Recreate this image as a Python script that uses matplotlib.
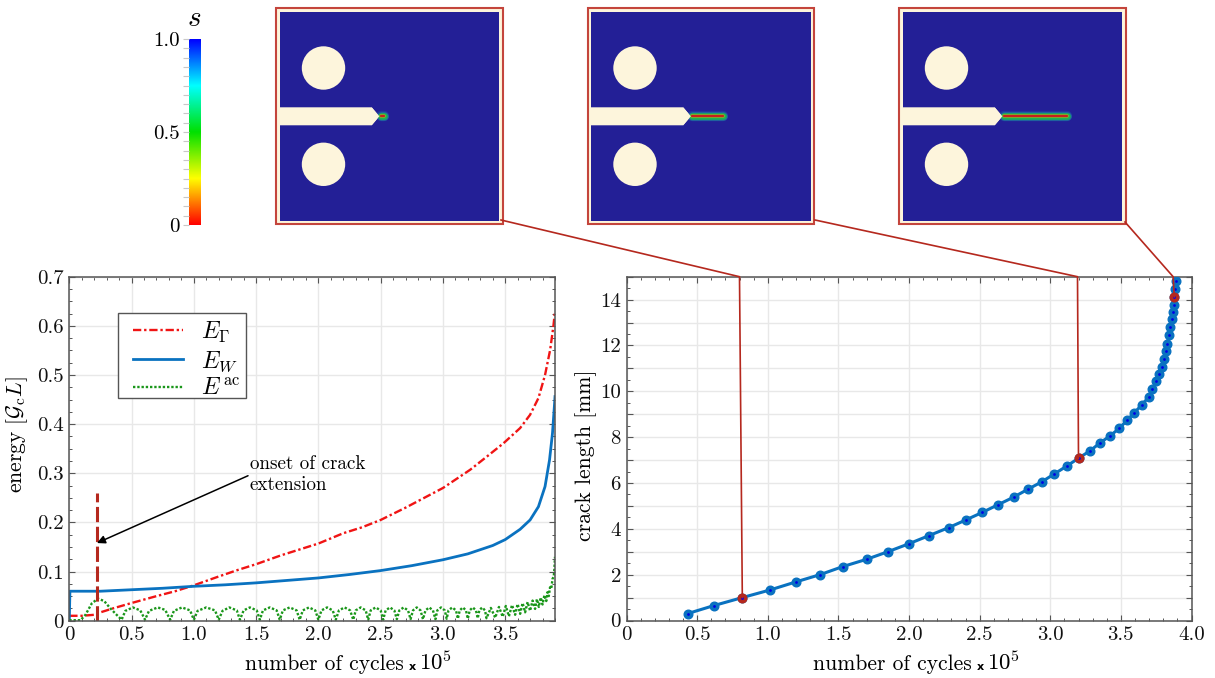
import numpy as np
import matplotlib
matplotlib.use("Agg")
import matplotlib.pyplot as plt
from matplotlib.colors import LinearSegmentedColormap
from matplotlib.lines import Line2D
from matplotlib.patches import Circle, Polygon, Rectangle
from matplotlib.ticker import MultipleLocator, FixedLocator, FixedFormatter
from matplotlib.transforms import IdentityTransform

plt.rcParams['font.family'] = ['cmr10', 'DejaVu Serif']
plt.rcParams['mathtext.fontset'] = 'cm'
plt.rcParams['axes.formatter.use_mathtext'] = True
plt.rcParams['axes.unicode_minus'] = False

W, H = 1215, 678

# energy curves, x in 1e5 cycles
gamma_x = [0, 0.1, 0.2, 0.25, 0.35, 0.5, 0.7, 0.85, 1.0, 1.2, 1.35, 1.5, 1.7, 1.85, 2.0, 2.2, 2.35, 2.5,
           2.7, 2.85, 3.0, 3.218, 3.353, 3.486, 3.62, 3.70, 3.767, 3.82, 3.861, 3.887, 3.9]
gamma_y = [0.01, 0.01, 0.012, 0.017, 0.025, 0.036, 0.05, 0.06, 0.072, 0.09, 0.103, 0.115, 0.133, 0.145, 0.157,
           0.178, 0.19, 0.205, 0.23, 0.25, 0.27, 0.307, 0.334, 0.361, 0.392, 0.419, 0.453, 0.50, 0.551, 0.599, 0.63]
elastic_x = [0, 0.005, 0.25, 0.5, 0.75, 1.0, 1.25, 1.5, 1.75, 2.0, 2.25, 2.5, 2.75, 3.0, 3.2, 3.4, 3.5, 3.62, 3.70,
             3.767, 3.82, 3.856, 3.88, 3.896, 3.9]
elastic_y = [0, 0.06, 0.06, 0.063, 0.066, 0.07, 0.073, 0.077, 0.082, 0.087, 0.094, 0.102, 0.112, 0.124, 0.136,
             0.153, 0.165, 0.186, 0.205, 0.232, 0.273, 0.327, 0.382, 0.44, 0.456]
acoustic_x = [0, 0.09, 0.13, 0.18, 0.23, 0.28, 0.33, 0.38, 0.42, 0.45, 0.51, 0.57, 0.608, 0.64, 0.71, 0.77, 0.81,
              0.84, 0.905, 0.97, 1.0, 1.03, 1.10, 1.17, 1.2, 1.23, 1.285, 1.345, 1.37, 1.40, 1.45, 1.505, 1.53,
              1.555, 1.61, 1.665, 1.69, 1.715, 1.77, 1.825, 1.85, 1.875, 1.925, 1.975, 2.0, 2.025, 2.07, 2.115, 2.14,
              2.165, 2.21, 2.255, 2.28, 2.30, 2.34, 2.38, 2.40, 2.42, 2.46, 2.50, 2.52, 2.54, 2.575, 2.61, 2.63,
              2.65, 2.685, 2.72, 2.74, 2.76, 2.79, 2.82, 2.84, 2.86, 2.89, 2.92, 2.94, 2.955, 2.985, 3.015, 3.03,
              3.045, 3.075, 3.105, 3.12, 3.135, 3.16, 3.185, 3.20, 3.215, 3.24, 3.265, 3.28, 3.292, 3.315, 3.338, 3.35,
              3.385, 3.42, 3.45, 3.48, 3.505, 3.53, 3.555, 3.58, 3.60, 3.62, 3.64, 3.66, 3.68, 3.70, 3.72, 3.74,
              3.755, 3.77, 3.785, 3.80, 3.815, 3.83, 3.84, 3.85, 3.86, 3.87, 3.88, 3.89, 3.895, 3.9]
acoustic_y = [0.001, 0.001, 0.012, 0.035, 0.045, 0.04, 0.025, 0.012, 0.002, 0.02, 0.027, 0.021, 0.002, 0.02, 0.027, 0.022, 0.002,
              0.02, 0.027, 0.021, 0.002, 0.02, 0.027, 0.021, 0.002, 0.02, 0.027, 0.021, 0.002, 0.021, 0.027, 0.021, 0.002,
              0.021, 0.027, 0.021, 0.002, 0.021, 0.027, 0.021, 0.002, 0.021, 0.027, 0.021, 0.002, 0.021, 0.027, 0.021, 0.002,
              0.021, 0.027, 0.021, 0.002, 0.021, 0.027, 0.021, 0.002, 0.021, 0.027, 0.021, 0.002, 0.021, 0.027, 0.021, 0.003,
              0.021, 0.027, 0.021, 0.003, 0.021, 0.027, 0.021, 0.003, 0.021, 0.027, 0.021, 0.003, 0.021, 0.027, 0.021, 0.004,
              0.021, 0.027, 0.021, 0.004, 0.021, 0.027, 0.021, 0.004, 0.021, 0.027, 0.021, 0.005, 0.021, 0.027, 0.021, 0.005,
              0.026, 0.006, 0.028, 0.008, 0.03, 0.009, 0.032, 0.012, 0.034, 0.014, 0.036, 0.017, 0.038, 0.02, 0.041, 0.024,
              0.044, 0.028, 0.047, 0.033, 0.052, 0.04, 0.058, 0.05, 0.068, 0.065, 0.085, 0.09, 0.105, 0.13]

onset_x = 0.222
onset_top = 0.26

# crack growth, x in 1e5 cycles, y in mm
crack_x = [0.432, 0.618, 0.82, 1.015, 1.197, 1.37, 1.53, 1.70, 1.85, 2.0, 2.14, 2.28, 2.40, 2.52, 2.63, 2.74, 2.84,
           2.94, 3.03, 3.12, 3.20, 3.283, 3.353, 3.42, 3.49, 3.544, 3.596, 3.65, 3.697, 3.723, 3.751, 3.77, 3.788,
           3.803, 3.817, 3.826, 3.843, 3.85, 3.864, 3.869, 3.873, 3.878, 3.885, 3.892]
crack_y = [0.3, 0.65, 1.0, 1.33, 1.68, 2.0, 2.35, 2.67, 3.0, 3.35, 3.7, 4.05, 4.38, 4.72, 5.05, 5.38, 5.72,
           6.05, 6.4, 6.75, 7.08, 7.41, 7.75, 8.04, 8.39, 8.74, 9.07, 9.42, 9.75, 10.1, 10.44, 10.74, 11.08,
           11.43, 11.75, 12.07, 12.44, 12.79, 13.14, 13.45, 13.77, 14.12, 14.45, 14.81]
snapshot_idx = [2, 20, 41]

# crack tip in the three snapshots, px from panel left edge
snapshot_tip = [111, 138, 171]
snapshot_left = [276, 587.5, 899]

RED = '#b5281e'
SPINE = '#555555'
GRID = '#e8e8e8'
TICK_SIZE = 15
LABEL_SIZE = 15.5


def px_axes(fig, left, top, right, bottom):
    return fig.add_axes([left / W, 1 - bottom / H, (right - left) / W, (bottom - top) / H])


def style_axes(ax):
    for s in ax.spines.values():
        s.set_color(SPINE)
        s.set_linewidth(1.1)
    ax.tick_params(which='both', direction='in', top=True, right=True, color=SPINE)
    ax.tick_params(which='major', length=4, width=0.8, labelsize=TICK_SIZE, pad=4, labelcolor='#111111')
    ax.tick_params(which='minor', length=2.5, width=0.7)
    ax.grid(True, which='major', color=GRID, lw=1.0)
    ax.set_axisbelow(True)
    ax.xaxis.set_minor_locator(MultipleLocator(0.1))
    ax.xaxis.set_major_locator(FixedLocator([0, 0.5, 1, 1.5, 2, 2.5, 3, 3.5, 4]))
    ax.xaxis.set_major_formatter(FixedFormatter(['0', '0.5', '1.0', '1.5', '2.0', '2.5', '3.0', '3.5', '4.0']))


def cycles_label(fig, ax, left):
    # label text starts at px left, small x and power of ten follow it
    ax.set_xlabel('number of cycles', fontsize=LABEL_SIZE, ha='left', va='baseline')
    box = ax.get_position()
    ax.xaxis.set_label_coords((left / W - box.x0) / box.width, (1 - 670 / H - box.y0) / box.height)
    fig.text((left + 167) / W, 1 - 670 / H, 'x', fontsize=8, fontweight='bold', ha='center', va='baseline',
             family='DejaVu Sans')
    fig.text((left + 174) / W, 1 - 670 / H, r'$10^5$', fontsize=LABEL_SIZE + 1, ha='left', va='baseline')


def draw_panel(fig, left, tip):
    ax = px_axes(fig, left, 8, left + 226.5, 224)
    ax.set_xlim(0, 226.5)
    ax.set_ylim(216, 0)
    ax.axis('off')
    ax.add_patch(Rectangle((0, 0), 226.5, 216, fc='#fdf5dc', ec='#c4453c', lw=1.5, clip_on=False))
    ax.add_patch(Rectangle((3.5, 3.5), 219.5, 209.5, fc='#231f96', ec='none'))
    ax.add_patch(Circle((47.5, 60), 21.7, fc='#fdf5dc', ec='none'))
    ax.add_patch(Circle((47.5, 156.3), 21.7, fc='#fdf5dc', ec='none'))
    ax.add_patch(Polygon([(3, 99.3), (95.7, 99.3), (103.3, 108.3), (95.7, 117.3), (3, 117.3)], fc='#fdf5dc', ec='none'))
    for lw, col, alpha in [(7.5, '#1d6fb0', 0.3), (6.2, '#1d8fa0', 0.6), (4.8, '#1fae55', 1), (2.8, '#7fb52a', 1),
                           (1.6, '#c8201c', 1)]:
        ax.plot([104.5, tip - 3], [108.3, 108.3], color=col, lw=lw, alpha=alpha, solid_capstyle='round')
    # keep the notch tip clean over the start of the glow
    ax.add_patch(Polygon([(95.7, 99.3), (103.3, 108.3), (95.7, 117.3)], fc='#fdf5dc', ec='none', zorder=5))


fig = plt.figure(figsize=(W / 100, H / 100), dpi=100)

# left plot
ax1 = px_axes(fig, 69.3, 276.7, 555, 620.7)
ax1.set_xlim(0, 3.9)
ax1.set_ylim(0, 0.7)
style_axes(ax1)
ax1.yaxis.set_major_locator(FixedLocator([0, 0.1, 0.2, 0.3, 0.4, 0.5, 0.6, 0.7]))
ax1.yaxis.set_major_formatter(FixedFormatter(['0', '0.1', '0.2', '0.3', '0.4', '0.5', '0.6', '0.7']))
ax1.yaxis.set_minor_locator(MultipleLocator(0.025))
ax1.plot(gamma_x, gamma_y, color='#f01414', lw=1.7, ls=(0, (3.5, 1.2, 1, 1.2)), label=r'$E_{\Gamma}$')
ax1.plot(elastic_x, elastic_y, color='#0a72c0', lw=2.0, label=r'$E_W$')
ax1.plot(acoustic_x, acoustic_y, color='#1a961a', lw=1.7, ls=(0, (1, 0.8)), label=r'$E^{\,\mathrm{ac}}$')
ax1.plot([onset_x, onset_x], [0, onset_top], color=RED, lw=2.2, ls=(0, (5, 1.5)))
ax1.annotate('', xy=(onset_x, 0.158), xytext=(1.435, 0.295),
             arrowprops=dict(arrowstyle='-|>', color='black', lw=1.1, shrinkA=0, shrinkB=0, mutation_scale=12))
ax1.text(1.45, 0.297, 'onset of crack\nextension', fontsize=13.7, ha='left', va='center', linespacing=1.25)
ax1.add_patch(Rectangle(((118 - 69.3) / 485.7, 1 - (397.7 - 276.7) / 344), 127.7 / 485.7, 84.4 / 344,
                        transform=ax1.transAxes, fc='white', ec=SPINE, lw=1.0, zorder=4.5))
leg = ax1.legend(loc='upper left', bbox_to_anchor=((133 - 69.3) / 485.7, 1 - (319.5 - 276.7) / 344),
                 borderaxespad=0, borderpad=0, fontsize=17, handlelength=2.12, handletextpad=0.75, labelspacing=0.2,
                 frameon=False)
leg.set_zorder(5)
cycles_label(fig, ax1, 245)
ax1.set_ylabel(r'energy $[\mathcal{G}_{\mathrm{c}}L]$', fontsize=LABEL_SIZE)
ax1.yaxis.set_label_coords(-0.081, 0.54)

# right plot
ax2 = px_axes(fig, 626.5, 276.7, 1191.5, 620.5)
ax2.set_xlim(0, 4.0)
ax2.set_ylim(0, 15)
style_axes(ax2)
ax2.yaxis.set_major_locator(FixedLocator(list(range(0, 16))))
ax2.yaxis.set_major_formatter(FixedFormatter(['0', '', '2', '', '4', '', '6', '', '8', '', '10', '', '12', '', '14', '']))
ax2.yaxis.set_minor_locator(MultipleLocator(0.5))
ax2.plot(crack_x, crack_y, color='#0a72c0', lw=2.2, marker='o', ms=6.2, mfc='#0a72c0', mec='#0a72c0', zorder=3)
ax2.plot([crack_x[i] for i in snapshot_idx], [crack_y[i] for i in snapshot_idx], ls='none', marker='o', ms=6.2,
         mfc=RED, mec=RED, zorder=4)
ax2.plot(crack_x, crack_y, ls='none', marker='o', ms=2.0, mew=0, color='#0000e6', zorder=5)
cycles_label(fig, ax2, 813)
ax2.set_ylabel('crack length [mm]', fontsize=LABEL_SIZE)
ax2.yaxis.set_label_coords(-0.052, 0.48)

# colour scale
cax = px_axes(fig, 189.3, 39, 200.7, 225)
cmap = LinearSegmentedColormap.from_list('s', ['#ff0000', '#ffff00', '#00e000', '#00ffff', '#0000ff'])
cax.imshow(np.linspace(1, 0, 256).reshape(-1, 1), aspect='auto', cmap=cmap, extent=[0, 1, 0, 1])
cax.set_xticks([])
cax.yaxis.set_major_locator(FixedLocator([0, 0.5, 1]))
cax.yaxis.set_major_formatter(FixedFormatter(['0', '0.5', '1.0']))
cax.yaxis.set_minor_locator(MultipleLocator(0.05))
cax.tick_params(which='both', direction='out', color='#c8c8c8', width=0.8)
cax.tick_params(which='major', length=4, labelsize=TICK_SIZE, pad=3)
cax.tick_params(which='minor', length=4)
for s in cax.spines.values():
    s.set_visible(False)
fig.text(194 / W, 1 - 19 / H, r'$s$', fontsize=21, ha='center', va='center')

# simulation snapshots
for left, tip in zip(snapshot_left, snapshot_tip):
    draw_panel(fig, left, tip)

top_xs = [0.80, 3.193, 3.87]
corners = [(501, 220), (815, 220), (1125, 222)]
for corner, tx, i in zip(corners, top_xs, snapshot_idx):
    p1 = ax2.transData.transform((tx, 15))
    p2 = ax2.transData.transform((crack_x[i], crack_y[i]))
    fig.add_artist(Line2D([corner[0], p1[0], p2[0]], [H - corner[1], p1[1], p2[1]], transform=IdentityTransform(),
                          color=RED, lw=1.2, zorder=6))

fig.savefig('out.png', dpi=100)
plt.close(fig)
